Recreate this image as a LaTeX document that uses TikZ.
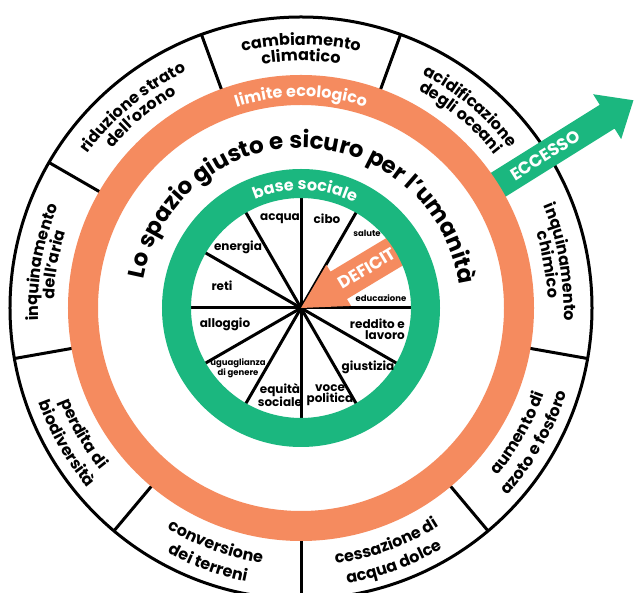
\documentclass[tikz,border=0pt]{standalone}
\usepackage{fontspec}
\setmainfont{Poppins}
\usetikzlibrary{decorations.text}

\definecolor{ecoorange}{RGB}{245,139,95}
\definecolor{socialgreen}{RGB}{27,183,127}

\newcommand{\bndfont}{\bfseries\fontsize{16}{16}\selectfont}
\newcommand{\ttlfont}{\bfseries\fontsize{23}{23}\selectfont}
\newcommand{\ringfont}{\bfseries\fontsize{16}{16}\selectfont}

\begin{document}
\begin{tikzpicture}[x=1pt,y=1pt,
  boundary/.style={decorate,decoration={text along path,text align=center,text={|\bndfont|#1}}},
  ringtext/.style={decorate,decoration={text along path,text align=center,text color=white,text={|\ringfont|#1}}}]
\tikzstyle{every node}+=[inner sep=0pt]
\tikzstyle{social}=[font=\bfseries\fontsize{12}{11}\selectfont,align=center]
\tikzstyle{small social}=[font=\bfseries\fontsize{8.5}{8.5}\selectfont,align=center]
\tikzstyle{arrow text}=[text=white,font=\bfseries\fontsize{17}{17}\selectfont]
\tikzstyle{thick line}=[black,line width=3pt]
\useasboundingbox (-301,-285) rectangle (335,308);
\draw [thick line,fill=white] (0,0) circle (291);
\draw [thick line] (110:225) -- (110:291);
\draw [thick line] (70:225) -- (70:291);
\draw [thick line] (30:225) -- (30:291);
\draw [thick line] (-10:225) -- (-10:291);
\draw [thick line] (-50:225) -- (-50:291);
\draw [thick line] (-90:225) -- (-90:291);
\draw [thick line] (-130:225) -- (-130:291);
\draw [thick line] (-170:225) -- (-170:291);
\draw [thick line] (150:225) -- (150:291);
\fill [socialgreen,rotate=32] (220,-14) -- (361,-14) -- (361,-26.5) -- (392,0) -- (361,26.5) -- (361,14) -- (220,14) -- cycle;
\node [arrow text,rotate=32] (eccesso) at (32:288) {ECCESSO};
\fill [ecoorange,even odd rule] (0,0) circle (233) (0,0) circle (203);
\draw [thick line] (0,0) -- (0:112);
\draw [thick line] (0,0) -- (30:112);
\draw [thick line] (0,0) -- (60:112);
\draw [thick line] (0,0) -- (90:112);
\draw [thick line] (0,0) -- (120:112);
\draw [thick line] (0,0) -- (150:112);
\draw [thick line] (0,0) -- (180:112);
\draw [thick line] (0,0) -- (210:112);
\draw [thick line] (0,0) -- (240:112);
\draw [thick line] (0,0) -- (270:112);
\draw [thick line] (0,0) -- (300:112);
\draw [thick line] (0,0) -- (330:112);
\fill [ecoorange,rotate=31] (0,0) -- (44,24) -- (44,16) -- (125,16) -- (125,-16) -- (44,-16) -- (44,-24) -- cycle;
\node [arrow text,rotate=31] (deficit) at (31:77) {DEFICIT};
\fill [socialgreen,even odd rule] (0,0) circle (139) (0,0) circle (110);
\node [social] (acqua) at (-21,89) {acqua};
\node [social] (cibo) at (26,89) {cibo};
\node [small social] (salute) at (66,75) {salute};
\node [small social] (educazione) at (80,10) {educazione};
\node [social,anchor=east,align=right] (reddito) at (104,-21) {reddito e\\lavoro};
\node [social] (giustizia) at (67,-59) {giustizia};
\node [social] (voce) at (29,-87) {voce\\politica};
\node [social] (equita) at (-21,-87) {equità\\sociale};
\node [small social] (uguaglianza) at (-63,-60) {uguaglianza\\di genere};
\node [social] (alloggio) at (-76,-16) {alloggio};
\node [social] (reti) at (-79,22) {reti};
\node [social] (energia) at (-63,61) {energia};
\path [ringtext={base sociale}] (140:118) arc[start angle=140,end angle=36,radius=118];
\path [ringtext={limite ecologico}] (130:211) arc[start angle=130,end angle=50,radius=211];
\path [decorate,decoration={text along path,text align=center,text={|\ttlfont|Lo spazio giusto e sicuro per l'umanità}}] (179:160) arc[start angle=179,end angle=-1,radius=160];
\path [boundary=cambiamento] (110:263) arc[start angle=110,end angle=70,radius=263];
\path [boundary=climatico] (110:247) arc[start angle=110,end angle=70,radius=247];
\path [boundary=acidificazione] (70:263) arc[start angle=70,end angle=30,radius=263];
\path [boundary={degli oceani}] (70:247) arc[start angle=70,end angle=30,radius=247];
\path [boundary=inquinamento] (30:263) arc[start angle=30,end angle=-10,radius=263];
\path [boundary=chimico] (30:247) arc[start angle=30,end angle=-10,radius=247];
\path [boundary=inquinamento] (190:263) arc[start angle=190,end angle=150,radius=263];
\path [boundary={dell'aria}] (190:247) arc[start angle=190,end angle=150,radius=247];
\path [boundary={riduzione strato}] (150:263) arc[start angle=150,end angle=110,radius=263];
\path [boundary={dell'ozono}] (150:247) arc[start angle=150,end angle=110,radius=247];
\path [boundary={aumento di}] (-50:258) arc[start angle=-50,end angle=-10,radius=258];
\path [boundary={azoto e fosforo}] (-50:279) arc[start angle=-50,end angle=-10,radius=279];
\path [boundary={cessazione di}] (-90:258) arc[start angle=-90,end angle=-50,radius=258];
\path [boundary={acqua dolce}] (-90:279) arc[start angle=-90,end angle=-50,radius=279];
\path [boundary=conversione] (-130:258) arc[start angle=-130,end angle=-90,radius=258];
\path [boundary={dei terreni}] (-130:279) arc[start angle=-130,end angle=-90,radius=279];
\path [boundary={perdita di}] (-170:258) arc[start angle=-170,end angle=-130,radius=258];
\path [boundary=biodiversità] (-170:279) arc[start angle=-170,end angle=-130,radius=279];
\end{tikzpicture}
\end{document}
